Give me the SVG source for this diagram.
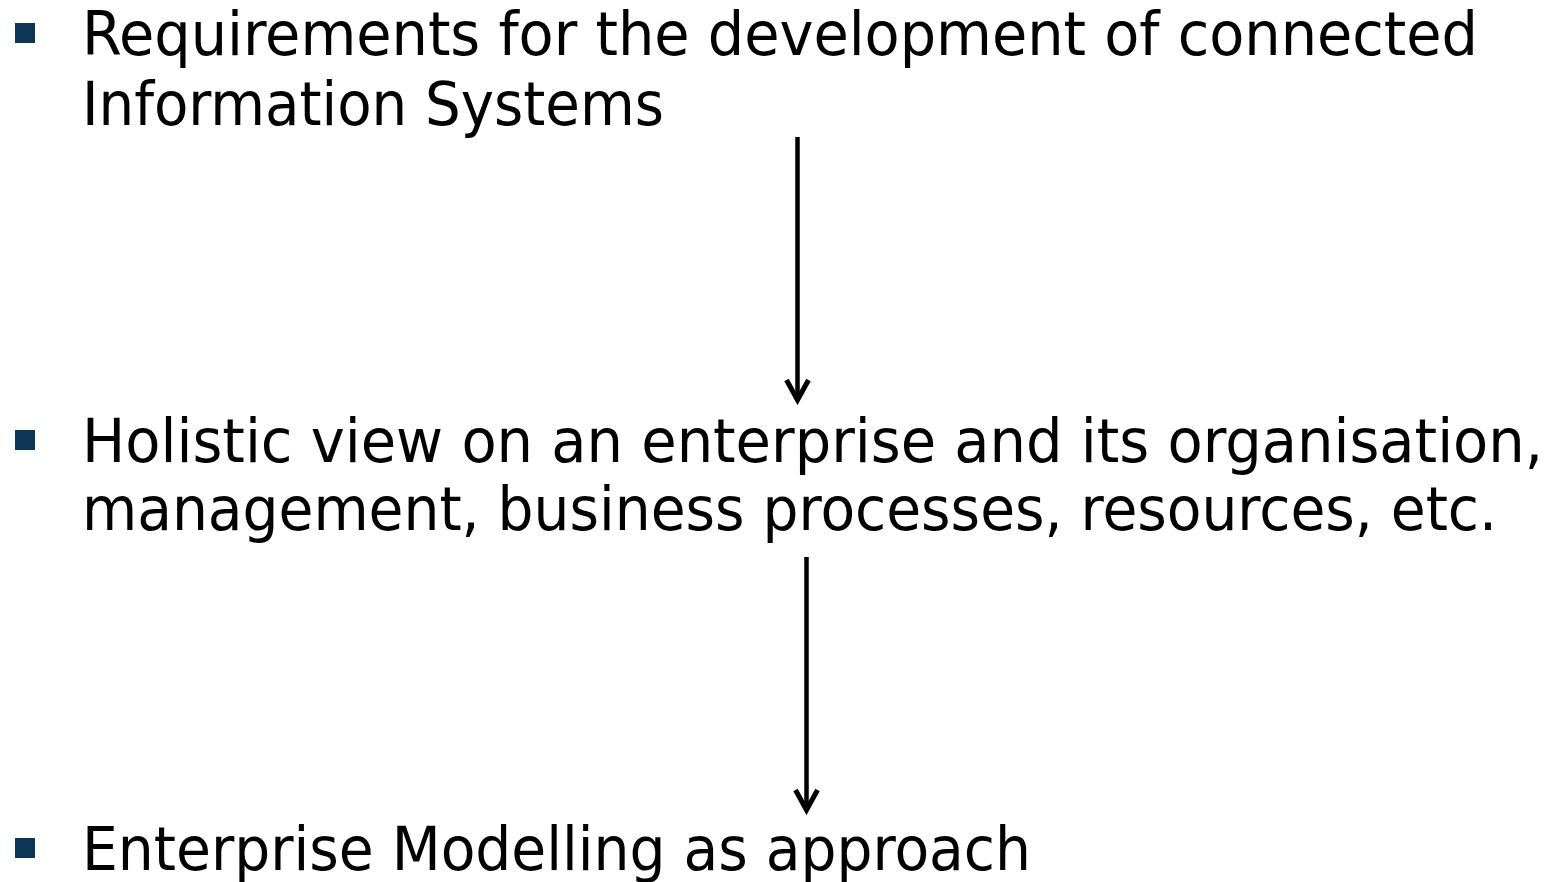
<svg xmlns="http://www.w3.org/2000/svg" width="1550" height="882" viewBox="0 0 1550 882">
<style>
.t{font-family:"DejaVu Sans Condensed","DejaVu Sans",sans-serif;font-size:60px;fill:#000}
.b{fill:#0c3556}
.c{stroke:#000;stroke-width:4.5;fill:none}
</style>
<defs>
<marker id="ah" viewBox="-28 -16 32 32" refX="0" refY="0" markerWidth="32" markerHeight="32" markerUnits="userSpaceOnUse" orient="auto">
<path d="M-21,-11 L-1,0 L-21,11" fill="none" stroke="#000" stroke-width="5" stroke-linejoin="miter"/>
</marker>
</defs>
<rect width="1550" height="882" fill="#fff"/>
<g id="node1">
<rect class="b" x="15" y="23" width="20" height="20"/>
<text class="t" x="82" y="55" textLength="1396" lengthAdjust="spacingAndGlyphs">Requirements for the development of connected</text>
<text class="t" x="82" y="125" textLength="582" lengthAdjust="spacingAndGlyphs">Information Systems</text>
</g>
<g id="node2">
<rect class="b" x="15" y="430" width="20" height="20"/>
<text class="t" x="82" y="462" textLength="1461" lengthAdjust="spacingAndGlyphs">Holistic view on an enterprise and its organisation,</text>
<text class="t" x="82" y="530" textLength="1415" lengthAdjust="spacingAndGlyphs">management, business processes, resources, etc.</text>
</g>
<g id="node3">
<rect class="b" x="15" y="838" width="20" height="20"/>
<text class="t" x="82" y="870" textLength="949" lengthAdjust="spacingAndGlyphs">Enterprise Modelling as approach</text>
</g>
<g id="connectors">
<line class="c" x1="797.5" y1="137" x2="797.5" y2="401" marker-end="url(#ah)"/>
<line class="c" x1="806.5" y1="557" x2="806.5" y2="811" marker-end="url(#ah)"/>
</g>
</svg>
